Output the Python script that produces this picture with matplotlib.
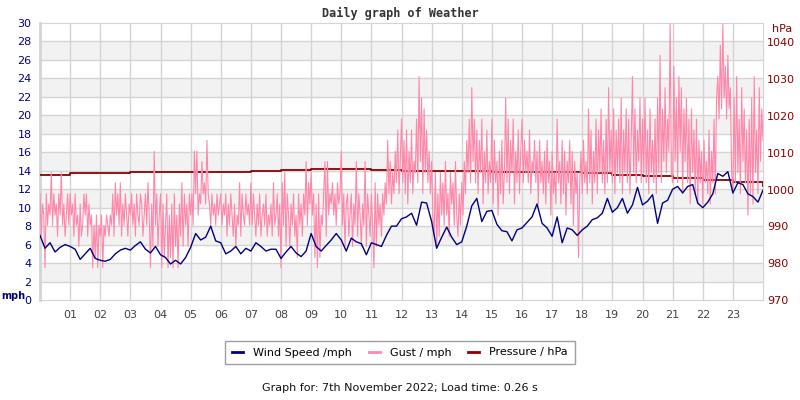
import numpy as np
import matplotlib
matplotlib.use("Agg")
import matplotlib.pyplot as plt
from matplotlib.lines import Line2D

# wind speed (mph), 10-minute samples from 00:00 to 24:00
wind = [
    7.0, 5.6, 6.2, 5.2, 5.7, 6.0,
    5.8, 5.5, 4.4, 5.0, 5.6, 4.5,
    4.3, 4.2, 4.4, 5.0, 5.4, 5.6,
    5.4, 5.9, 6.3, 5.5, 5.1, 5.8,
    4.9, 4.6, 3.9, 4.3, 3.9, 4.6,
    5.7, 7.2, 6.5, 6.8, 8.0, 6.4,
    6.2, 5.0, 5.3, 5.8, 5.0, 5.6,
    5.3, 6.2, 5.8, 5.3, 5.5, 5.5,
    4.5, 5.2, 5.8, 5.1, 4.7, 5.3,
    7.2, 5.8, 5.3, 5.9, 6.5, 7.2,
    6.5, 5.3, 6.7, 6.3, 6.1, 4.9,
    6.2, 6.0, 5.8, 7.0, 8.0, 8.0,
    8.8, 9.0, 9.4, 8.1, 10.6, 10.5,
    8.5, 5.6, 6.8, 7.9, 6.8, 6.0,
    6.3, 8.0, 10.2, 11.0, 8.5, 9.6,
    9.7, 8.2, 7.5, 7.4, 6.4, 7.6,
    7.8, 8.4, 9.0, 10.4, 8.3, 7.8,
    6.9, 9.0, 6.2, 7.8, 7.6, 7.0,
    7.6, 8.0, 8.7, 8.9, 9.4, 11.0,
    9.5, 10.0, 11.0, 9.4, 10.3, 12.2,
    10.3, 10.7, 11.4, 8.3, 10.5, 10.8,
    12.0, 12.3, 11.6, 12.3, 12.5, 10.5,
    10.0, 10.6, 11.5, 13.7, 13.4, 13.9,
    11.6, 12.7, 12.5, 11.5, 11.2, 10.6,
    11.9,
]

# gust (mph), 2.5-minute samples from 00:00 to 24:00
gust = [
    11.5, 6.9, 10.4, 9.2, 3.5, 11.5, 8.1, 10.4, 9.2, 13.8, 8.1, 11.5, 9.2, 10.4, 6.9, 11.5, 9.2, 13.8, 8.1, 10.4, 6.9, 9.2, 11.5, 8.1,
    11.5, 9.2, 10.4, 6.9, 11.5, 8.1, 9.2, 5.8, 10.4, 6.9, 8.1, 11.5, 9.2, 11.5, 6.9, 10.4, 8.1, 9.2, 3.5, 8.1, 4.6, 9.2, 3.5, 8.1,
    6.9, 9.2, 3.5, 8.1, 6.9, 9.2, 8.1, 6.9, 9.2, 8.1, 11.5, 6.9, 12.7, 9.2, 11.5, 8.1, 12.7, 6.9, 10.4, 8.1, 11.5, 9.2, 6.9, 10.4,
    9.2, 11.5, 8.1, 10.4, 6.9, 11.5, 9.2, 8.1, 11.5, 10.4, 6.9, 9.2, 11.5, 8.1, 12.7, 9.2, 3.5, 10.4, 5.8, 16.1, 8.1, 11.5, 5.8, 9.2,
    11.5, 3.5, 10.4, 4.6, 8.1, 11.5, 3.5, 9.2, 4.6, 10.4, 3.5, 11.5, 5.8, 9.2, 3.5, 10.4, 6.9, 12.7, 5.8, 11.5, 8.1, 10.4, 5.8, 11.5,
    9.2, 11.5, 8.1, 16.1, 11.5, 16.1, 9.2, 11.5, 10.4, 15.0, 11.5, 12.7, 10.4, 17.3, 11.5, 10.4, 8.1, 11.5, 9.2, 10.4, 8.1, 11.5, 9.2, 10.4,
    11.5, 8.1, 10.4, 9.2, 11.5, 6.9, 10.4, 8.1, 11.5, 9.2, 6.9, 10.4, 5.8, 9.2, 8.1, 12.7, 6.9, 11.5, 9.2, 8.1, 11.5, 9.2, 10.4, 8.1,
    12.7, 8.1, 11.5, 9.2, 6.9, 10.4, 8.1, 11.5, 6.9, 9.2, 10.4, 8.1, 11.5, 6.9, 9.2, 8.1, 10.4, 6.9, 12.7, 8.1, 9.2, 11.5, 6.9, 10.4,
    3.5, 12.7, 8.1, 13.8, 5.8, 11.5, 9.2, 5.8, 10.4, 8.1, 11.5, 6.9, 9.2, 4.6, 11.5, 8.1, 10.4, 6.9, 11.5, 9.2, 15.0, 8.1, 12.7, 10.4,
    13.8, 9.2, 11.5, 4.6, 10.4, 3.5, 11.5, 4.6, 9.2, 8.1, 11.5, 15.0, 6.9, 15.0, 9.2, 11.5, 10.4, 12.7, 9.2, 11.5, 8.1, 12.7, 10.4, 11.5,
    16.1, 8.1, 11.5, 5.8, 10.4, 11.5, 6.9, 9.2, 11.5, 5.8, 10.4, 8.1, 15.0, 6.9, 11.5, 9.2, 5.8, 10.4, 8.1, 15.0, 5.8, 11.5, 9.2, 6.9,
    11.5, 8.1, 3.5, 12.7, 5.8, 11.5, 8.1, 10.4, 6.9, 11.5, 9.2, 12.7, 10.4, 17.3, 11.5, 15.0, 10.4, 13.8, 11.5, 16.1, 12.7, 18.4, 11.5, 15.0,
    19.6, 12.7, 17.3, 11.5, 18.4, 10.4, 16.1, 12.7, 18.4, 11.5, 15.0, 13.8, 19.6, 12.7, 24.2, 15.0, 21.9, 11.5, 20.7, 13.8, 18.4, 12.7, 16.1, 11.5,
    15.0, 9.2, 6.9, 13.8, 5.8, 11.5, 6.9, 13.8, 9.2, 12.7, 8.1, 15.0, 9.2, 11.5, 6.9, 13.8, 10.4, 12.7, 8.1, 15.0, 9.2, 6.9, 11.5, 8.1,
    12.7, 9.2, 15.0, 11.5, 17.3, 13.8, 19.6, 12.7, 23.0, 15.0, 19.6, 12.7, 18.4, 11.5, 17.3, 13.8, 19.6, 10.4, 16.1, 12.7, 18.4, 11.5, 15.0, 12.7,
    19.6, 10.4, 17.3, 12.7, 15.0, 9.2, 16.1, 11.5, 17.3, 10.4, 13.8, 21.9, 12.7, 19.6, 11.5, 17.3, 13.8, 19.6, 10.4, 16.1, 12.7, 18.4, 11.5, 16.1,
    19.6, 12.7, 17.3, 13.8, 16.1, 12.7, 18.4, 11.5, 15.0, 13.8, 17.3, 12.7, 16.1, 10.4, 17.3, 12.7, 15.0, 11.5, 16.1, 10.4, 17.3, 12.7, 15.0, 9.2,
    16.1, 11.5, 13.8, 10.4, 19.6, 12.7, 15.0, 10.4, 17.3, 11.5, 16.1, 9.2, 15.0, 12.7, 17.3, 10.4, 16.1, 8.1, 15.0, 11.5, 13.8, 4.6, 12.7, 16.1,
    11.5, 17.3, 12.7, 15.0, 11.5, 20.7, 12.7, 18.4, 10.4, 16.1, 12.7, 19.6, 11.5, 18.4, 13.8, 20.7, 12.7, 17.3, 11.5, 19.6, 12.7, 23.0, 13.8, 18.4,
    12.7, 20.7, 11.5, 18.4, 13.8, 19.6, 12.7, 21.9, 11.5, 18.4, 13.8, 20.7, 12.7, 19.6, 11.5, 17.3, 24.2, 13.8, 20.7, 12.7, 18.4, 15.0, 21.9, 12.7,
    19.6, 13.8, 21.9, 12.7, 18.4, 11.5, 20.7, 13.8, 17.3, 12.7, 19.6, 11.5, 21.9, 13.8, 26.5, 12.7, 20.7, 15.0, 23.0, 13.8, 19.6, 16.1, 29.9, 13.8,
    12.7, 25.3, 15.0, 21.9, 12.7, 24.2, 16.1, 23.0, 11.5, 20.7, 15.0, 21.9, 12.7, 19.6, 10.4, 20.7, 13.8, 18.4, 11.5, 19.6, 10.4, 17.3, 12.7, 16.1,
    10.4, 17.3, 12.7, 15.0, 11.5, 18.4, 10.4, 16.1, 12.7, 19.6, 11.5, 21.9, 24.2, 19.6, 27.6, 20.7, 29.9, 21.9, 25.3, 19.6, 26.5, 20.7, 23.0, 13.8,
    11.5, 21.9, 12.7, 24.2, 13.8, 19.6, 11.5, 23.0, 15.0, 20.7, 12.7, 18.4, 9.2, 19.6, 11.5, 21.9, 10.4, 24.2, 13.8, 18.4, 11.5, 23.0, 15.0, 20.7,
    17.3,
]

# pressure (hPa), hourly
pressure = [
    1004.1, 1004.4, 1004.4, 1004.7, 1004.9, 1004.9, 1004.9, 1005.2, 1005.3,
    1005.6, 1005.6, 1005.4, 1005.1, 1005.0, 1005.0, 1004.9, 1004.7, 1004.8,
    1004.4, 1003.9, 1003.6, 1003.2, 1002.7, 1002.0, 1001.1,
]

hour_labels = ["%02d" % h for h in range(1, 24)]

t_wind = np.arange(len(wind)) / 6.0
t_gust = np.arange(len(gust)) / 24.0
t_pres = np.arange(len(pressure))

navy = "#000080"
pink = "#ff88aa"
dred = "#8b0000"
gridc = "#d4d4d4"

fig = plt.figure(figsize=(8, 4), dpi=100)
rect = [40/800, 1-300/400, 723/800, 277/400]

# background axes: bands + grid
bg = fig.add_axes(rect, zorder=0)
bg.set_xlim(0, 24)
bg.set_ylim(0, 30)
for y0 in range(2, 30, 4):
    bg.axhspan(y0, y0+2, color="#f2f2f2", lw=0)
for y0 in range(2, 30, 2):
    bg.axhline(y0, color=gridc, lw=1)
for h in range(1, 24):
    bg.axvline(h, color=gridc, lw=1)
bg.set_xticks([])
bg.set_yticks([])
for s in bg.spines.values():
    s.set_color(gridc)
bg.spines["left"].set_linewidth(2)

# pressure axis (right), under the wind/gust axis
ax2 = fig.add_axes(rect, zorder=1)
ax2.patch.set_visible(False)
ax2.plot(t_pres, pressure, color=dred, lw=1.3, drawstyle="steps-post")
ax2.set_xlim(0, 24)
ax2.set_ylim(970, 1045.3)
ax2.yaxis.tick_right()
ax2.set_yticks(range(970, 1041, 10))
ax2.tick_params(axis="y", length=0, pad=3, labelsize=8, labelcolor=dred)
ax2.set_xticks([])
for s in ax2.spines.values():
    s.set_visible(False)

# wind / gust axis (left)
ax = fig.add_axes(rect, zorder=2)
ax.patch.set_visible(False)
ax.plot(t_gust, gust, color=pink, lw=0.8)
ax.plot(t_wind, wind, color=navy, lw=1)
ax.set_xlim(0, 24)
ax.set_ylim(0, 30)
ax.set_yticks(range(0, 31, 2))
ax.tick_params(axis="y", length=0, pad=6, labelsize=8, labelcolor=navy)
ax.set_xticks(range(1, 24))
ax.set_xticklabels(hour_labels)
ax.tick_params(axis="x", length=0, pad=7, labelsize=8, labelcolor="#444444")
for s in ax.spines.values():
    s.set_visible(False)

fig.text(0.5, 1-13/400, "Daily graph of Weather", ha="center", va="center",
         family="DejaVu Sans Mono", fontweight="bold", fontsize=8.5, color="#333333")
fig.text(1/800, 1-296/400, "mph", ha="left", va="center", fontweight="bold",
         fontsize=7, color=navy)
fig.text(772/800, 1-29/400, "hPa", ha="left", va="center", fontsize=8, color=dred)

handles = [Line2D([], [], color=navy, lw=2),
           Line2D([], [], color=pink, lw=2),
           Line2D([], [], color=dred, lw=2)]
leg = fig.legend(handles, ["Wind Speed /mph", "Gust / mph", "Pressure / hPa"],
                 loc="center", bbox_to_anchor=(0.5, 1-352.5/400), ncol=3,
                 fontsize=8, frameon=True, fancybox=False, edgecolor="#888888",
                 handlelength=1.0, handletextpad=0.9, columnspacing=1.5,
                 borderpad=0.6)
leg.get_frame().set_linewidth(1)

fig.text(0.5, 1-388/400, "Graph for: 7th November 2022; Load time: 0.26 s",
         ha="center", va="center", fontsize=8, color="#111111")

fig.savefig("out.png", dpi=100)
